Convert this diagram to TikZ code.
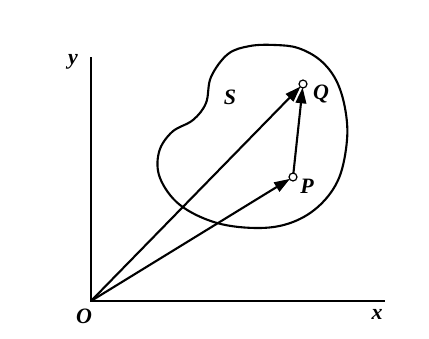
\documentclass[tikz,border=0pt]{standalone}
\usepackage{fontspec}
\setmainfont{Liberation Serif}
\usetikzlibrary{arrows.meta}
\begin{document}
\begin{tikzpicture}[x=0.02cm,y=-0.02cm,
  axis/.style={line width=1.7pt},
  vec/.style={line width=1.2pt,-{Triangle[length=9pt,width=6pt]}},
  blob/.style={line width=1.2pt},
  pt/.style={circle,draw,line width=0.7pt,fill=white,inner sep=0pt,minimum size=4.5pt},
  lab/.style={font=\bfseries\itshape\fontsize{12.5}{14}\selectfont,inner sep=1pt}]
\useasboundingbox (0,0) rectangle (429,338);
\coordinate (O) at (91,301);
\coordinate (Yend) at (91,57);
\coordinate (Xend) at (385,301);
\draw[axis] (Yend) -- (O) -- (Xend);
\draw[blob] plot[smooth cycle,tension=0.6] coordinates {
 (275,45) (298,48) (320,60) (336,80) (345,108) (347,140) (339,178) (320,205) (293,222) (260,228)
 (217,223) (180,205) (160,178) (159,152) (172,132) (193,120) (206,103) (211,77) (228,54) (250,46)};
\coordinate (P) at (293,177);
\coordinate (Q) at (303,84);
\draw[vec,shorten >=2pt] (O) -- (P);
\draw[vec,shorten >=2pt] (O) -- (Q);
\draw[vec,shorten >=2pt] (P) -- (Q);
\node[pt] (Pn) at (P) {};
\node[pt] (Qn) at (Q) {};
\node[lab] (lP) at (307,186) {P};
\node[lab] (lQ) at (321,94) {Q};
\node[lab] (lS) at (230,97) {S};
\node[lab] (ly) at (73,62) {y};
\node[lab] (lO) at (84,316) {O};
\node[lab] (lx) at (377,314) {x};
\end{tikzpicture}
\end{document}
